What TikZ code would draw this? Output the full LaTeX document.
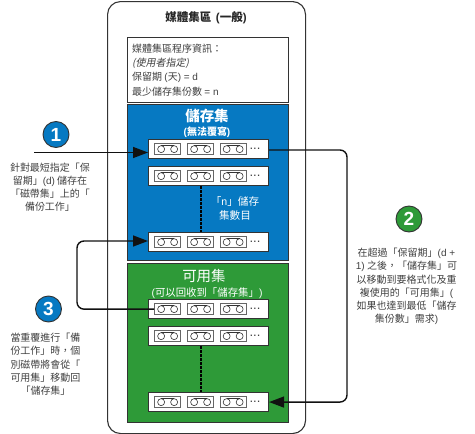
\documentclass[tikz,border=0pt]{standalone}
\usepackage{fontspec}
\setmainfont{Noto Sans CJK TC}
\newfontfamily\latinf{Liberation Sans}
\newfontfamily\slantf[FakeSlant=0.2]{Noto Sans CJK TC}
\newcommand{\lf}[1]{{\latinf #1}}
\definecolor{bluefill}{HTML}{0679C2}
\definecolor{greenfill}{HTML}{2E9A38}
\definecolor{linecol}{HTML}{111111}
\definecolor{bordercol}{HTML}{333333}
\definecolor{textcol}{HTML}{404040}
\usetikzlibrary{arrows.meta,calc}
\tikzset{
  x=1pt,y=-1pt,
  outerbox/.style={draw=bordercol,line width=1.1pt,rounded corners=13pt,fill=white},
  setbox/.style={draw=bordercol,line width=1pt,anchor=north west,minimum width=161pt,inner sep=0pt},
  rowbox/.style={draw=bordercol,line width=1.1pt,fill=white,anchor=north west,minimum width=120pt,minimum height=19pt,inner sep=0pt},
  tapebox/.style={draw=bordercol!75,line width=1.3pt,fill=white,anchor=north west,minimum width=26pt,minimum height=11pt,inner sep=0pt},
  reel/.style={draw=bordercol,line width=.6pt,fill=white,circle,minimum size=7pt,inner sep=0pt},
  flow/.style={draw=linecol,line width=1.4pt,rounded corners=7pt},
  tip/.style={-{Triangle[length=15pt,width=11pt]}},
  gap/.style={draw=black,line width=2pt,dash pattern=on 3pt off 1pt},
  badge/.style={circle,draw=bordercol,line width=.9pt,minimum size=26pt,inner sep=0pt,text=white,font=\latinf\bfseries\fontsize{19}{19}\selectfont},
  sidetext/.style={align=center,text=textcol,font=\fontsize{10}{13.25}\selectfont,inner sep=0pt},
  whitetext/.style={align=center,text=white,inner sep=0pt},
}
\newcommand{\tape}[3]{% name, x, y
  \node[tapebox] (#1) at (#2,#3) {};
  \node[reel] (#1a) at ($(#1.center)+(-6.5,0)$) {};
  \node[reel] (#1b) at ($(#1.center)+(6.5,0)$) {};
  \draw[draw=bordercol,line width=.6pt] (#1a.north) -- (#1b.north);
}
\newcommand{\taperow}[2]{% name, top y
  \node[rowbox] (#1) at (148,#2) {};
  \tape{#1x}{154}{#2+4}
  \tape{#1y}{187}{#2+4}
  \tape{#1z}{219.5}{#2+4}
  \node[text=textcol,inner sep=0pt,font=\latinf\fontsize{13}{13}\selectfont] (#1d) at (255,#2+10) {...};
}
\begin{document}
\begin{tikzpicture}
\useasboundingbox (0,0) rectangle (475,434);
\node[outerbox,anchor=north west,minimum width=198pt,minimum height=432pt,inner sep=0pt] (pool) at (107,1) {};
\node[inner sep=0pt,font=\bfseries\fontsize{11.5}{11.5}\selectfont,text=black!85] (title) at (206,18) {媒體集區\ \,\lf{(}一般\lf{)}};
\node[setbox,fill=white,minimum height=65pt] (info) at (127,37) {};
\node[anchor=north west,inner sep=0pt,align=left,text=textcol,font=\fontsize{10}{14.4}\selectfont] (infotext) at (132,43.5)
  {媒體集區程序資訊：\\{\slantf (使用者指定)}\\保留期 \lf{(}天\lf{) = d}\\最少儲存集份數 \lf{= n}};
\node[setbox,fill=bluefill,minimum height=156pt] (keep) at (127,104) {};
\node[setbox,fill=greenfill,minimum height=159pt] (free) at (127,263) {};
\node[whitetext,font=\bfseries\fontsize{14.5}{14.5}\selectfont] (keeptitle) at (207,116) {儲存集};
\node[whitetext,font=\bfseries\fontsize{10}{10}\selectfont] (keepsub) at (207,132) {\lf{(}無法覆寫\lf{)}};
\node[whitetext,font=\fontsize{14.5}{14.5}\selectfont] (freetitle) at (204,276) {可用集};
\node[whitetext,font=\fontsize{10.4}{10.4}\selectfont] (freesub) at (207,293) {\lf{(}可以回收到「儲存集」\lf{)}};
\node[whitetext,font=\fontsize{10.6}{14}\selectfont] (ncount) at (235,208) {「\lf{n}」儲存\\集數目};
\taperow{ka}{139}
\taperow{kb}{166}
\taperow{kc}{232}
\taperow{fa}{299}
\taperow{fb}{326}
\taperow{fc}{392}
\draw[gap] (kb.south) ++(-8,0) coordinate (kgs) -- (kgs |- kc.north);
\draw[gap] (fb.south) ++(-8,0) coordinate (fgs) -- (fgs |- fc.north);
\coordinate (in1) at (34,152.5);
\draw[flow,tip] (in1) -- (in1 -| ka.west);
\coordinate (r1) at (347,150);
\draw[flow,tip] (ka.east |- r1) -- (r1) -- (r1 |- fc.center) -- (fc.east);
\coordinate (l3) at (77,241);
\draw[flow,tip] (fax.west) -- (fax.west -| l3) -- (l3) -- (l3 -| kc.west);
\node[badge,fill=bluefill] (b1) at (56,134.5) {1};
\node[badge,fill=greenfill] (b2) at (409,219) {2};
\node[badge,fill=bluefill] (b3) at (48.5,309) {3};
\node[sidetext,anchor=north] (t1) at (50,162.5) {針對最短指定「保\\留期」\lf{(d)} 儲存在\\「磁帶集」上的「\\備份工作」};
\node[sidetext,anchor=north] (t2) at (406.5,248) {在超過「保留期」\lf{(d +}\\\lf{1)} 之後，「儲存集」可\\以移動到要格式化及重\\複使用的「可用集」\lf{(}\\如果也達到最低「儲存\\集份數」需求\lf{)}};
\node[sidetext,anchor=north] (t3) at (45.5,333) {當重覆進行「備\\份工作」時，個\\別磁帶將會從「\\可用集」移動回\\「儲存集」};
\end{tikzpicture}
\end{document}
